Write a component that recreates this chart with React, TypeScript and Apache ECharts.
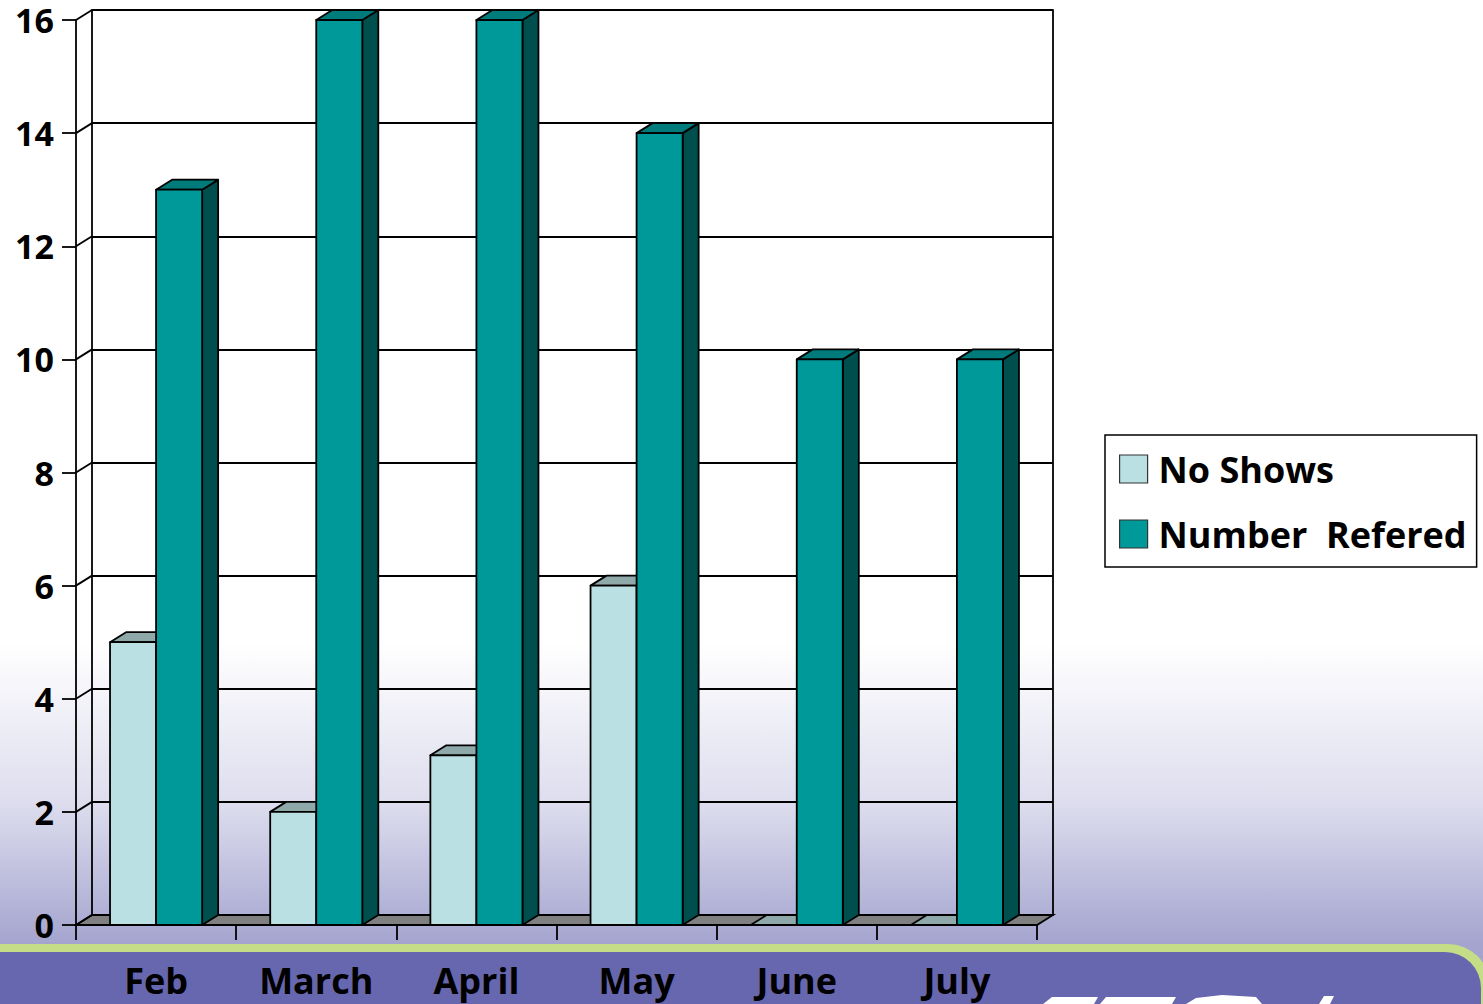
import React, { useEffect, useRef } from "react";
import * as echarts from "echarts";

// Monthly referral figures
const categories = ["Feb", "March", "April", "May", "June", "July"];
const noShows = [5, 2, 3, 6, 0, 0];
const numberReferred = [13, 16, 16, 14, 10, 10];
const yTicks = [0, 2, 4, 6, 8, 10, 12, 14, 16];
const seriesNames = ["No Shows", "Number  Refered"];

// Pseudo-3D depth of the plot (screen pixels)
const DX = 16;
const DY = -10;
const FRONT = { left: 76, top: 20, width: 961, height: 905 };
const BAR_FRAC = 0.2875;
const LINE = 1.8;
const FONT = "'Open Sans', 'DejaVu Sans', sans-serif";

const palette = {
  noShows: { front: "#BAE0E3", top: "#8FA9AA", side: "#6F9A9C" },
  referred: { front: "#009999", top: "#007B7B", side: "#004F4F" },
};

function barRenderer(slot: number, c: { front: string; top: string; side: string }) {
  return (params: any, api: any) => {
    const cat = api.value(0);
    const v = api.value(1);
    const base = api.coord([cat, 0]);
    const top = api.coord([cat, v]);
    const band = api.size([1, 0])[0];
    const w = band * BAR_FRAC;
    const x0 = slot === 0 ? base[0] - w : base[0];
    const x1 = x0 + w;
    const yB = base[1];
    const yT = top[1];
    const stroke = { stroke: "#000", lineWidth: LINE, lineJoin: "round" };
    return {
      type: "group",
      children: [
        {
          type: "polygon",
          shape: { points: [[x1, yT], [x1 + DX, yT + DY], [x1 + DX, yB + DY], [x1, yB]] },
          style: { fill: c.side, ...stroke },
        },
        {
          type: "polygon",
          shape: { points: [[x0, yT], [x1, yT], [x1 + DX, yT + DY], [x0 + DX, yT + DY]] },
          style: { fill: c.top, ...stroke },
        },
        {
          type: "polygon",
          shape: { points: [[x0, yT], [x1, yT], [x1, yB], [x0, yB]] },
          style: { fill: c.front, ...stroke },
        },
      ],
    };
  };
}

export default function App() {
  const ref = useRef<HTMLDivElement>(null);

  useEffect(() => {
    if (!ref.current) return;
    const chart = echarts.init(ref.current, null, { renderer: "svg" });

    const option: any = {
      animation: false,
      backgroundColor: new echarts.graphic.LinearGradient(0, 0, 0, 1, [
        { offset: 0, color: "#FFFFFF" },
        { offset: 0.64, color: "#FFFFFF" },
        { offset: 0.8, color: "#DDDDEE" },
        { offset: 0.94, color: "#A4A4CF" },
        { offset: 1, color: "#A0A0CD" },
      ]),
      graphic: [
        {
          type: "rect",
          z: -10,
          shape: { x: -10, y: 944, width: 1500, height: 120, r: [0, 42, 0, 0] },
          style: { fill: "#C6DD88" },
        },
        {
          type: "rect",
          z: -9,
          shape: { x: -10, y: 952, width: 1491, height: 120, r: [0, 36, 0, 0] },
          style: { fill: "#6667AE" },
        },
        {
          type: "polygon",
          z: -8,
          shape: { points: [[1052, 997], [1098, 997], [1094, 1004], [1043, 1004]] },
          style: { fill: "#FFFFFF" },
        },
        {
          type: "polygon",
          z: -8,
          shape: { points: [[1106, 997], [1176, 997], [1172, 1004], [1100, 1004]] },
          style: { fill: "#FFFFFF" },
        },
        {
          type: "polygon",
          z: -8,
          shape: { points: [[1196, 998], [1222, 995], [1256, 997], [1262, 1004], [1186, 1004]] },
          style: { fill: "#FFFFFF" },
        },
        {
          type: "polygon",
          z: -8,
          shape: { points: [[1324, 996], [1334, 996], [1330, 1004], [1319, 1004]] },
          style: { fill: "#FFFFFF" },
        },
      ],
      legend: {
        data: seriesNames,
        orient: "vertical",
        left: 1105,
        top: 435,
        backgroundColor: "#FFFFFF",
        borderColor: "#000",
        borderWidth: 1.5,
        borderRadius: 0,
        padding: [14, 10, 13, 14],
        itemGap: 25,
        itemWidth: 28,
        itemHeight: 28,
        icon: "rect",
        selectedMode: false,
        itemStyle: { borderColor: "#333", borderWidth: 1.2 },
        textStyle: {
          fontFamily: FONT,
          fontWeight: "bold",
          fontSize: 36,
          lineHeight: 38,
          color: "#000",
          padding: [2, 0, 0, 6],
        },
      },
      grid: [
        { ...FRONT },
        { left: FRONT.left + DX, top: FRONT.top + DY, width: FRONT.width, height: FRONT.height },
      ],
      xAxis: [
        {
          type: "category",
          gridIndex: 0,
          data: categories,
          axisLine: { show: true, lineStyle: { color: "#000", width: LINE } },
          axisTick: { show: true, length: 15, interval: 0, lineStyle: { color: "#000", width: LINE } },
          axisLabel: {
            interval: 0,
            margin: 37,
            fontFamily: FONT,
            fontWeight: "bold",
            fontSize: 36,
            color: "#000",
          },
          splitLine: { show: false },
        },
        { type: "category", gridIndex: 1, data: categories, show: false },
      ],
      yAxis: [
        {
          type: "value",
          gridIndex: 0,
          min: 0,
          max: 16,
          interval: 2,
          axisLine: { show: true, lineStyle: { color: "#000", width: LINE } },
          axisTick: { show: true, length: 14, lineStyle: { color: "#000", width: LINE } },
          axisLabel: {
            margin: 22,
            fontFamily: FONT,
            fontWeight: "bold",
            fontSize: 34,
            lineHeight: 28,
            color: "#000",
          },
          splitLine: { show: false },
        },
        {
          type: "value",
          gridIndex: 1,
          min: 0,
          max: 16,
          interval: 2,
          axisLine: { show: true, lineStyle: { color: "#000", width: LINE } },
          axisTick: { show: false },
          axisLabel: { show: false },
          splitLine: { show: true, lineStyle: { color: "#000", width: LINE } },
        },
        {
          type: "value",
          gridIndex: 1,
          position: "right",
          min: 0,
          max: 16,
          interval: 2,
          axisLine: { show: true, onZero: false, lineStyle: { color: "#000", width: LINE } },
          axisTick: { show: false },
          axisLabel: { show: false },
          splitLine: { show: false },
        },
      ],
      series: [
        {
          // floor of the plot
          type: "custom",
          xAxisIndex: 0,
          yAxisIndex: 0,
          silent: true,
          data: [[0, 0]],
          renderItem: (params: any, api: any) => {
            const band = api.size([1, 0])[0];
            const a = api.coord([0, 0]);
            const b = api.coord([categories.length - 1, 0]);
            const l = a[0] - band / 2;
            const r = b[0] + band / 2;
            const y = a[1];
            return {
              type: "polygon",
              shape: { points: [[l, y], [r, y], [r + DX, y + DY], [l + DX, y + DY]] },
              style: { fill: "#808080", stroke: "#000", lineWidth: LINE },
            };
          },
        },
        {
          // side-wall connectors from the front axis to the back wall
          type: "custom",
          xAxisIndex: 0,
          yAxisIndex: 0,
          silent: true,
          data: yTicks.map((v) => [0, v]),
          renderItem: (params: any, api: any) => {
            const band = api.size([1, 0])[0];
            const p = api.coord([0, api.value(1)]);
            const l = p[0] - band / 2;
            return {
              type: "line",
              shape: { x1: l, y1: p[1], x2: l + DX, y2: p[1] + DY },
              style: { stroke: "#000", lineWidth: LINE },
            };
          },
        },
        {
          name: seriesNames[0],
          type: "custom",
          xAxisIndex: 0,
          yAxisIndex: 0,
          itemStyle: { color: palette.noShows.front, borderColor: "#333", borderWidth: 1.2 },
          data: noShows.map((v, i) => [i, v]),
          renderItem: barRenderer(0, palette.noShows),
        },
        {
          name: seriesNames[1],
          type: "custom",
          xAxisIndex: 0,
          yAxisIndex: 0,
          itemStyle: { color: palette.referred.front, borderColor: "#333", borderWidth: 1.2 },
          data: numberReferred.map((v, i) => [i, v]),
          renderItem: barRenderer(1, palette.referred),
        },
      ],
    };

    chart.setOption(option);
    return () => chart.dispose();
  }, []);

  return (
    <div
      ref={ref}
      style={{ position: "absolute", left: 0, top: 0, width: 1483, height: 1004 }}
    />
  );
}
